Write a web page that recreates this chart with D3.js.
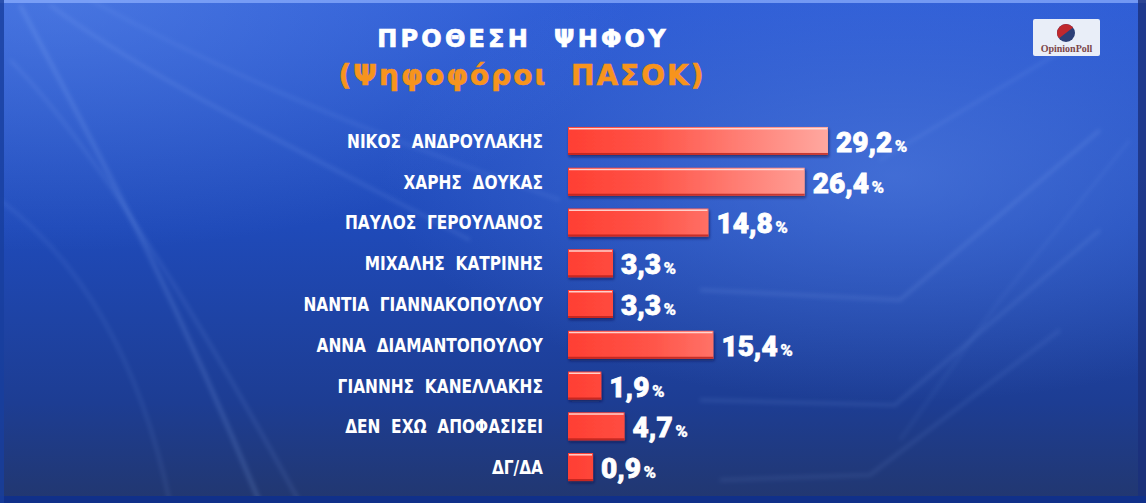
<!DOCTYPE html>
<html>
<head>
<meta charset="utf-8">
<script src="https://cdn.jsdelivr.net/npm/d3@7"></script>
<style>
  html, body { margin: 0; padding: 0; background: #1c3e9c; }
  svg { display: block; }
  text { white-space: pre; }
</style>
</head>
<body>
<svg id="chart" width="1146" height="503"></svg>
<script>
// ---- data ----
const categories = [
  "ΝΙΚΟΣ  ΑΝΔΡΟΥΛΑΚΗΣ",
  "ΧΑΡΗΣ  ΔΟΥΚΑΣ",
  "ΠΑΥΛΟΣ  ΓΕΡΟΥΛΑΝΟΣ",
  "ΜΙΧΑΛΗΣ  ΚΑΤΡΙΝΗΣ",
  "ΝΑΝΤΙΑ  ΓΙΑΝΝΑΚΟΠΟΥΛΟΥ",
  "ΑΝΝΑ  ΔΙΑΜΑΝΤΟΠΟΥΛΟΥ",
  "ΓΙΑΝΝΗΣ  ΚΑΝΕΛΛΑΚΗΣ",
  "ΔΕΝ  ΕΧΩ  ΑΠΟΦΑΣΙΣΕΙ",
  "ΔΓ/ΔΑ"
];
const values = [29.2, 26.4, 14.8, 3.3, 3.3, 15.4, 1.9, 4.7, 0.9];
const valueLabels = ["29,2", "26,4", "14,8", "3,3", "3,3", "15,4", "1,9", "4,7", "0,9"];
const titleText = "ΠΡΟΘΕΣΗ  ΨΗΦΟΥ";
const subtitleText = "(Ψηφοφόροι  ΠΑΣΟΚ)";
const logoText = "OpinionPoll";

// ---- setup ----
const W = 1146, H = 503;
const svg = d3.select("#chart");
const defs = svg.append("defs");

// background gradient
const bg = defs.append("linearGradient").attr("id", "bg").attr("x1", 0).attr("y1", 0).attr("x2", 0).attr("y2", 1);
bg.append("stop").attr("offset", "0%").attr("stop-color", "#2d5cd6");
bg.append("stop").attr("offset", "45%").attr("stop-color", "#1f4ab9");
bg.append("stop").attr("offset", "80%").attr("stop-color", "#1d3d93");
bg.append("stop").attr("offset", "100%").attr("stop-color", "#22376f");

const glow = defs.append("radialGradient").attr("id", "glow").attr("cx", 0.78).attr("cy", 0.35).attr("r", 0.45);
glow.append("stop").attr("offset", "0%").attr("stop-color", "#5b86e6").attr("stop-opacity", 0.55);
glow.append("stop").attr("offset", "100%").attr("stop-color", "#5b86e6").attr("stop-opacity", 0);

const glowL = defs.append("radialGradient").attr("id", "glowL").attr("cx", 0.05).attr("cy", 0.0).attr("r", 0.5);
glowL.append("stop").attr("offset", "0%").attr("stop-color", "#6f9af0").attr("stop-opacity", 0.4);
glowL.append("stop").attr("offset", "100%").attr("stop-color", "#6f9af0").attr("stop-opacity", 0);

svg.append("rect").attr("width", W).attr("height", H).attr("fill", "url(#bg)");
svg.append("rect").attr("width", W).attr("height", H).attr("fill", "url(#glow)");
svg.append("rect").attr("width", W).attr("height", H).attr("fill", "url(#glowL)");

// decorative light streaks
const blur = defs.append("filter").attr("id", "blur").attr("x", "-20%").attr("y", "-20%").attr("width", "140%").attr("height", "140%");
blur.append("feGaussianBlur").attr("stdDeviation", 2.2);
const streaks = svg.append("g").attr("filter", "url(#blur)").attr("fill", "none").attr("stroke", "#9fc0ff");
[
  ["M20,5 C80,120 160,260 260,503", 0.18, 4],
  ["M50,5 C150,80 300,150 470,240", 0.16, 3],
  ["M10,60 C90,140 200,320 300,503", 0.14, 3],
  ["M0,200 C80,260 140,360 170,503", 0.12, 3],
  ["M90,0 C200,60 330,120 560,200", 0.12, 3],
  ["M700,290 L900,300 L1100,130", 0.16, 3],
  ["M700,400 L895,405 L1100,230", 0.14, 3],
  ["M720,480 L870,475 L1060,330", 0.12, 3],
  ["M880,160 L1080,40", 0.12, 3],
  ["M1130,140 L1000,300 L900,440", 0.08, 3]
].forEach(([d, o, w]) => streaks.append("path").attr("d", d).attr("stroke-opacity", o).attr("stroke-width", w));

// frame edges
svg.append("rect").attr("x", 0).attr("y", 0).attr("width", W).attr("height", 3).attr("fill", "#8fb0ff").attr("opacity", 0.7);
svg.append("rect").attr("x", 1138).attr("y", 0).attr("width", 8).attr("height", H).attr("fill", "#1a2f7a").attr("opacity", 0.8);
svg.append("rect").attr("x", 0).attr("y", 496).attr("width", W).attr("height", 7).attr("fill", "#10308a");
svg.append("rect").attr("x", 0).attr("y", 0).attr("width", 4).attr("height", H).attr("fill", "#183e9e").attr("opacity", 0.8);

// ---- title ----
svg.append("text")
  .attr("x", 523).attr("y", 47)
  .attr("text-anchor", "middle")
  .attr("font-family", "'DejaVu Sans', sans-serif")
  .attr("font-weight", "bold").attr("font-size", 24)
  .attr("letter-spacing", 3.2)
  .attr("stroke", "#ffffff").attr("stroke-width", 0.7)
  .attr("fill", "#ffffff")
  .text(titleText);

svg.append("text")
  .attr("x", 522).attr("y", 85)
  .attr("text-anchor", "middle")
  .attr("font-family", "'DejaVu Sans', sans-serif")
  .attr("font-weight", "bold").attr("font-size", 28)
  .attr("letter-spacing", 2)
  .attr("stroke", "#f7941d").attr("stroke-width", 0.6)
  .attr("fill", "#f7941d")
  .text(subtitleText);

// ---- logo ----
const logo = svg.append("g");
logo.append("rect").attr("x", 1033).attr("y", 19).attr("width", 67).attr("height", 37).attr("rx", 2)
  .attr("fill", "#e9eef8");
const logoCirc = defs.append("clipPath").attr("id", "lc");
logoCirc.append("circle").attr("cx", 1066).attr("cy", 33).attr("r", 9);
logo.append("circle").attr("cx", 1066).attr("cy", 33).attr("r", 9).attr("fill", "#2c3f77");
logo.append("path").attr("clip-path", "url(#lc)")
  .attr("d", "M1052,22 L1080,22 L1062,36 L1052,44 Z").attr("fill", "#c0282d");
logo.append("text").attr("x", 1066.5).attr("y", 52).attr("text-anchor", "middle")
  .attr("font-family", "'Liberation Serif', serif").attr("font-weight", "bold").attr("font-size", 10)
  .attr("fill", "#7a4548").text(logoText);

// ---- scales ----
const x0 = 568;
const x = d3.scaleLinear().domain([0, 30]).range([x0 + 17.6, x0 + 266.6]);
const y = d3.scaleBand().domain(categories).range([120.6, 487.4]).paddingInner(0.313).paddingOuter(0.156);

// bar gradient across full scale
const bg2 = defs.append("linearGradient").attr("id", "barG")
  .attr("gradientUnits", "userSpaceOnUse").attr("x1", x0).attr("x2", x(30)).attr("y1", 0).attr("y2", 0);
bg2.append("stop").attr("offset", "0%").attr("stop-color", "#ff3f33");
bg2.append("stop").attr("offset", "30%").attr("stop-color", "#ff5347");
bg2.append("stop").attr("offset", "100%").attr("stop-color", "#ffaba3");

const shadow = defs.append("filter").attr("id", "shadow").attr("x", "-10%").attr("y", "-30%").attr("width", "130%").attr("height", "170%");
shadow.append("feDropShadow").attr("dx", 1).attr("dy", 2).attr("stdDeviation", 1.5).attr("flood-color", "#0a1540").attr("flood-opacity", 0.6);

const rows = svg.append("g").selectAll("g").data(categories).join("g");

rows.append("rect")
  .attr("x", x0)
  .attr("y", d => y(d))
  .attr("width", (d, i) => x(values[i]) - x0)
  .attr("height", y.bandwidth())
  .attr("fill", "url(#barG)")
  .attr("filter", "url(#shadow)");

// top highlight
rows.append("rect")
  .attr("x", x0 + 1)
  .attr("y", d => y(d) + 1)
  .attr("width", (d, i) => x(values[i]) - x0 - 2)
  .attr("height", 1.5)
  .attr("fill", "#ffe0dc").attr("opacity", 0.9);

// bottom darker edge
rows.append("rect")
  .attr("x", x0)
  .attr("y", d => y(d) + y.bandwidth() - 2)
  .attr("width", (d, i) => x(values[i]) - x0)
  .attr("height", 2)
  .attr("fill", "#b8201c").attr("opacity", 0.8);

// category labels (condensed look)
rows.append("text")
  .attr("transform", d => `translate(543,${y(d) + y.bandwidth() / 2 + 7}) scale(0.9,1)`)
  .attr("text-anchor", "end")
  .attr("font-family", "'DejaVu Sans Condensed', 'DejaVu Sans', sans-serif")
  .attr("font-weight", "bold")
  .attr("font-size", 19)
  .attr("fill", "#ffffff")
  .text(d => d);

// value labels
const vt = rows.append("text")
  .attr("x", (d, i) => x(values[i]) + 8)
  .attr("y", d => y(d) + y.bandwidth() - 3)
  .attr("font-family", "Roboto, 'Open Sans', sans-serif")
  .attr("font-weight", 900)
  .attr("stroke", "#ffffff").attr("stroke-width", 0.8)
  .attr("fill", "#ffffff");
vt.append("tspan").attr("font-size", 28).text((d, i) => valueLabels[i]);
vt.append("tspan").attr("font-size", 17).attr("dx", 2.5).attr("stroke-width", 0.3).text("%");
</script>
</body>
</html>
